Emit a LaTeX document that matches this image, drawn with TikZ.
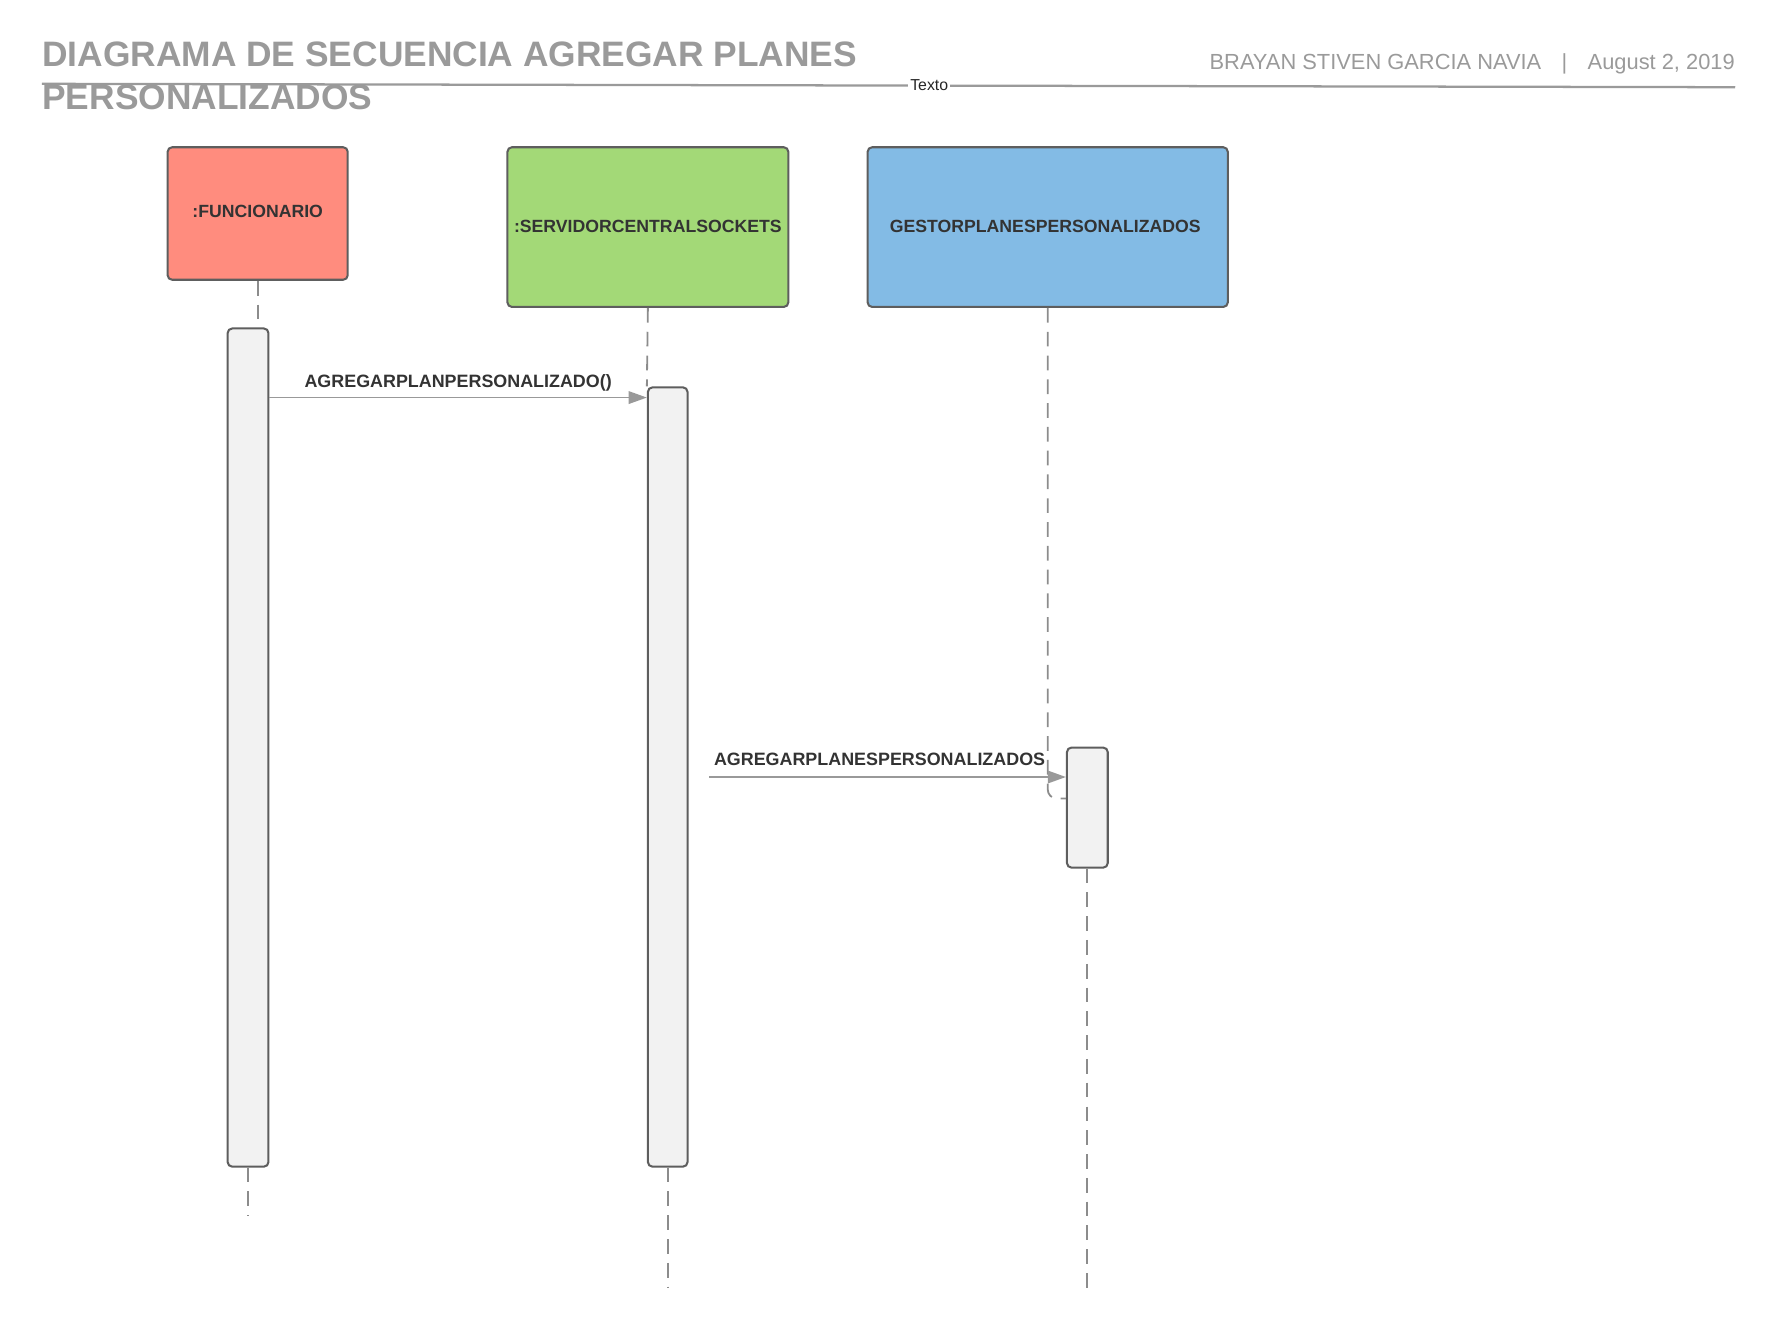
\documentclass[tikz,border=0pt]{standalone}
\usepackage{fontspec}
\setmainfont{Liberation Sans}
\usepackage{xcolor}
\usetikzlibrary{arrows.meta,calc}
\definecolor{titlegray}{HTML}{9A9A9A}
\definecolor{boxline}{HTML}{5E5E5E}
\definecolor{labeltext}{HTML}{333333}
\definecolor{lifegray}{HTML}{8C8C8C}
\definecolor{arrowgray}{HTML}{999999}
\definecolor{actfill}{HTML}{F2F2F2}
\definecolor{funfill}{HTML}{FF8C7E}
\definecolor{srvfill}{HTML}{A3D977}
\definecolor{gstfill}{HTML}{83BBE5}
\tikzset{
  title/.style = {anchor=base west, inner sep=0pt, text=titlegray,
                  font=\fontsize{15.6}{19}\selectfont\bfseries},
  actor/.style = {draw=boxline, line width=0.9pt, rounded corners=2pt, inner sep=0pt,
                  text=labeltext, font=\fontsize{7.8}{9}\selectfont\bfseries},
  activation/.style = {draw=boxline, fill=actfill, line width=0.9pt, rounded corners=2pt},
  lifeline/.style = {draw=lifegray, line width=0.8pt, dash pattern=on 6.5pt off 4pt},
  message/.style = {draw=arrowgray, line width=0.8pt, -{Triangle[length=8pt,width=5.5pt]}},
  msglabel/.style = {anchor=base, inner sep=0pt, text=labeltext,
                     font=\fontsize{7.9}{9}\selectfont\bfseries}
}
\begin{document}
\begin{tikzpicture}[x=0.5pt,y=-0.5pt]
  \useasboundingbox (0,0) rectangle (1568,1172);

  \node[title] (title1) at (37,59) {DIAGRAMA DE SECUENCIA AGREGAR PLANES};
  \node[title] (title2) at (37,97) {PERSONALIZADOS};
  \node[anchor=base east, inner sep=0pt, text=titlegray, font=\fontsize{9.65}{11}\selectfont]
    (author) at (1532,61.8) {BRAYAN STIVEN GARCIA NAVIA\hspace{9pt}|\hspace{9pt}August 2, 2019};
  \coordinate (hl) at (37,74);
  \coordinate (hr) at (1532,77);
  \draw[titlegray, line width=1pt] (hl) -- node[pos=0.524, fill=white, inner sep=1pt,
    text=black!85, font=\fontsize{7}{8}\selectfont] (texto) {Texto} (hr);

  \foreach \n/\x/\y/\w/\h/\c/\r/\t in {
    fun/227.5/188.5/159/117/funfill/1.5pt/{:FUNCIONARIO},
    srv/572/200.5/248/141/srvfill/0.5pt/{:SERVIDORCENTRALSOCKETS},
    gst/925/200.5/318/141/gstfill/0.5pt/{GESTORPLANESPERSONALIZADOS}
  }{
    \node[actor, fill=\c, minimum width=\w*0.5pt, minimum height=\h*0.5pt] (\n) at (\x,\y) {\raisebox{\r}{\t}};
  }

  \node[activation, minimum width=18pt, minimum height=370pt] (act1) at (219,660) {};
  \node[activation, minimum width=17.5pt, minimum height=344pt] (act2) at (589.5,686) {};
  \node[activation, minimum width=18pt, minimum height=53pt] (act3) at (960,713) {};

  \coordinate (m3) at (0,705);
  \draw[lifeline] (fun.south) -- (fun.south |- act1.north);
  \draw[lifeline] (srv.south) -- (act2.north west);
  \draw[lifeline, rounded corners=4pt] (gst.south) -- (gst.south |- m3) -- (act3.west |- m3);
  \foreach \a/\y in {act1/1073, act2/1137, act3/1137}{
    \draw[lifeline] (\a.south) -- (\a.south |- 0,\y);
  }

  \coordinate (m1) at (0,351);
  \coordinate (s2) at (626,686);
  \draw[message] (act1.east |- m1) -- node[msglabel, yshift=4.5pt] (msg1) {AGREGARPLANPERSONALIZADO()} (act2.west |- m1);
  \draw[message] (s2) -- node[msglabel, xshift=-3.5pt, yshift=5pt] (msg2) {AGREGARPLANESPERSONALIZADOS} (act3.west |- s2);
\end{tikzpicture}
\end{document}
